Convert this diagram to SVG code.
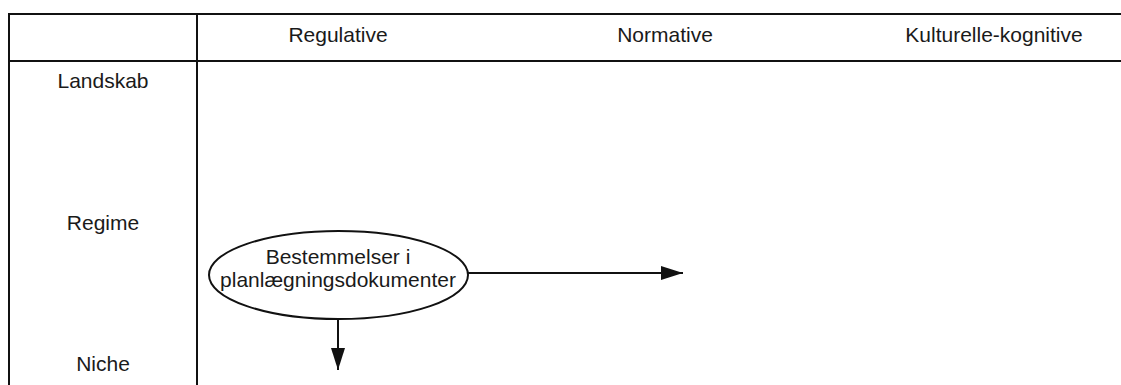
<svg xmlns="http://www.w3.org/2000/svg" width="1121" height="385" viewBox="0 0 1121 385">
  <style>
    .grid { stroke: #111; stroke-width: 2; fill: none; }
    .lbl { font-family: "Liberation Sans", Arial, sans-serif; font-size: 21px; fill: #1a1a1a; text-anchor: middle; }
    .edge { stroke: #111; stroke-width: 2; fill: none; }
  </style>
  <defs>
    <marker id="arrow" viewBox="0 0 22 14" refX="22" refY="7" markerWidth="22" markerHeight="14" markerUnits="userSpaceOnUse" orient="auto">
      <path d="M0,0 L22,7 L0,14 Z" fill="#111"/>
    </marker>
  </defs>
  <rect width="1121" height="385" fill="#fff"/>

  <!-- table frame -->
  <g id="table">
    <line class="grid" x1="9" y1="14" x2="1121" y2="14"/>
    <line class="grid" x1="9" y1="61" x2="1121" y2="61"/>
    <line class="grid" x1="9" y1="13" x2="9" y2="385"/>
    <line class="grid" x1="197" y1="13" x2="197" y2="385"/>
  </g>

  <!-- column headers -->
  <g id="col-regulative"><text class="lbl" x="338" y="42">Regulative</text></g>
  <g id="col-normative"><text class="lbl" x="665" y="42">Normative</text></g>
  <g id="col-kulturelle"><text class="lbl" x="994" y="42">Kulturelle-kognitive</text></g>

  <!-- row headers -->
  <g id="row-landskab"><text class="lbl" x="103" y="88">Landskab</text></g>
  <g id="row-regime"><text class="lbl" x="103" y="230">Regime</text></g>
  <g id="row-niche"><text class="lbl" x="103" y="371">Niche</text></g>

  <!-- connectors -->
  <g id="connectors">
    <line class="edge" x1="468" y1="273" x2="683" y2="273" marker-end="url(#arrow)"/>
    <line class="edge" x1="338" y1="319" x2="338" y2="370" marker-end="url(#arrow)"/>
  </g>

  <!-- node -->
  <g id="node-bestemmelser">
    <ellipse cx="338.5" cy="275" rx="129.5" ry="44" fill="#fff" stroke="#111" stroke-width="2"/>
    <text class="lbl" x="338" y="264">Bestemmelser i</text>
    <text class="lbl" x="338" y="287">planlægningsdokumenter</text>
  </g>
</svg>
